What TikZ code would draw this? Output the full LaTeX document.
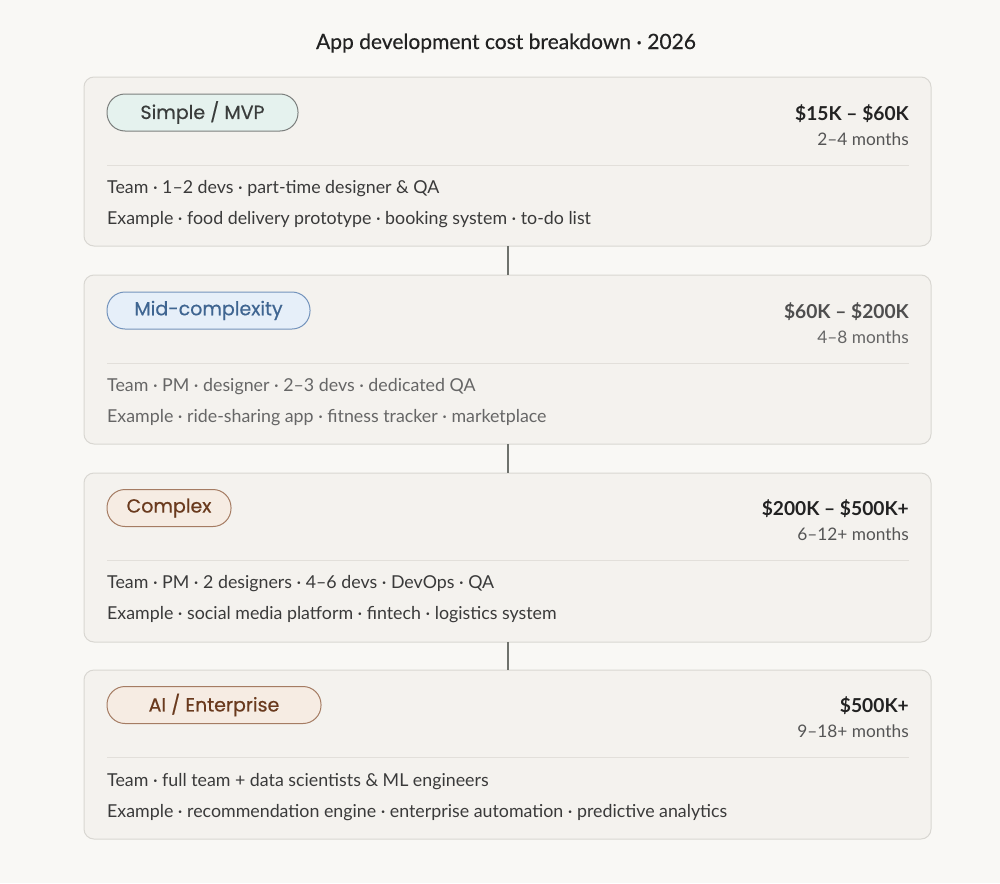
\documentclass[tikz,border=0pt]{standalone}
\usepackage{fontspec}
\setmainfont{Lato}
\newfontfamily\pillfont[FakeBold=0.5]{Poppins}
\newfontfamily\titlefont[FakeBold=0.4]{Lato}
\usetikzlibrary{positioning}
\definecolor{bg}{HTML}{F9F8F5}
\definecolor{cardfill}{HTML}{F4F2EE}
\definecolor{cardline}{HTML}{D9D7D2}
\definecolor{sepline}{HTML}{E2DFDA}
\definecolor{conn}{HTML}{6F726D}
\definecolor{darktext}{HTML}{222222}
\definecolor{bodytext}{HTML}{3A3A3A}
\definecolor{graytext}{HTML}{666666}
\definecolor{monthtext}{HTML}{555555}
\definecolor{tealfill}{HTML}{E5F2EE}
\definecolor{tealline}{HTML}{7C7F7D}
\definecolor{tealtext}{HTML}{3A3D3C}
\definecolor{bluefill}{HTML}{E6EFF9}
\definecolor{blueline}{HTML}{7393BC}
\definecolor{bluetext}{HTML}{3F6591}
\definecolor{brownfill}{HTML}{F6ECE3}
\definecolor{brownline}{HTML}{A57C63}
\definecolor{browntext}{HTML}{6A3A1E}
\tikzset{
  card/.style={draw=cardline, fill=cardfill, line width=1pt, rounded corners=10pt},
  pill/.style={draw, line width=1pt, rounded corners=18pt, minimum height=37pt, inner sep=0pt, font=\pillfont\fontsize{19}{21}\selectfont},
  price/.style={anchor=base east, inner sep=0pt, font=\bfseries\fontsize{19.2}{21}\selectfont},
  months/.style={anchor=base east, inner sep=0pt, font=\fontsize{17.3}{19}\selectfont},
  body/.style={anchor=base west, inner sep=0pt, font=\fontsize{17.8}{19}\selectfont},
  sep/.style={draw=sepline, line width=1pt},
  connector/.style={draw=conn, line width=2.5pt}
}
\begin{document}
\begin{tikzpicture}[x=1pt,y=-1pt]
\fill[bg] (0,0) rectangle (1000,883);
\useasboundingbox (0,0) rectangle (1000,883);
\node[anchor=base, inner sep=0pt, text=darktext, font=\titlefont\fontsize{21}{23}\selectfont] (title) at (506,49) {App development cost breakdown · 2026};

% cards
\draw[card] (84,77) rectangle (931,246); \coordinate (c1top) at (508,77); \coordinate (c1bot) at (508,246);
\draw[card] (84,275) rectangle (931,444); \coordinate (c2top) at (508,275); \coordinate (c2bot) at (508,444);
\draw[card] (84,473) rectangle (931,642); \coordinate (c3top) at (508,473); \coordinate (c3bot) at (508,642);
\draw[card] (84,670) rectangle (931,839); \coordinate (c4top) at (508,670);

\draw[connector] (c1bot) -- (c2top);
\draw[connector] (c2bot) -- (c3top);
\draw[connector] (c3bot) -- (c4top);

% card 1
\node[pill, fill=tealfill, draw=tealline, text=tealtext, minimum width=191pt] (p1) at (202.5,112.5) {Simple / MVP};
\node[price, text=darktext] (pr1) at (909,120) {\$15K – \$60K};
\node[months, text=monthtext] (m1) at (909,145) {2–4 months};
\draw[sep] (107,165) -- (909,165);
\node[body, text=bodytext] (t1) at (107,193) {Team · 1–2 devs · part-time designer \& QA};
\node[body, text=bodytext] (e1) at (107,224) {Example · food delivery prototype · booking system · to-do list};

% card 2
\node[pill, fill=bluefill, draw=blueline, text=bluetext, minimum width=203pt] (p2) at (208.5,310.5) {Mid-complexity};
\node[price, text=darktext!80] (pr2) at (909,318) {\$60K – \$200K};
\node[months, text=graytext] (m2) at (909,343) {4–8 months};
\draw[sep] (107,363) -- (909,363);
\node[body, text=graytext] (t2) at (107,391) {Team · PM · designer · 2–3 devs · dedicated QA};
\node[body, text=graytext] (e2) at (107,422) {Example · ride-sharing app · fitness tracker · marketplace};

% card 3
\node[pill, fill=brownfill, draw=brownline, text=browntext, minimum width=124pt] (p3) at (169,508) {Complex};
\node[price, text=darktext] (pr3) at (909,515) {\$200K – \$500K+};
\node[months, text=monthtext] (m3) at (909,540) {6–12+ months};
\draw[sep] (107,560) -- (909,560);
\node[body, text=bodytext] (t3) at (107,588) {Team · PM · 2 designers · 4–6 devs · DevOps · QA};
\node[body, text=bodytext] (e3) at (107,619) {Example · social media platform · fintech · logistics system};

% card 4
\node[pill, fill=brownfill, draw=brownline, text=browntext, minimum width=214pt] (p4) at (214,705) {AI / Enterprise};
\node[price, text=darktext] (pr4) at (909,712) {\$500K+};
\node[months, text=monthtext] (m4) at (909,737) {9–18+ months};
\draw[sep] (107,757) -- (909,757);
\node[body, text=bodytext] (t4) at (107,786) {Team · full team + data scientists \& ML engineers};
\node[body, text=bodytext] (e4) at (107,817) {Example · recommendation engine · enterprise automation · predictive analytics};
\end{tikzpicture}
\end{document}
